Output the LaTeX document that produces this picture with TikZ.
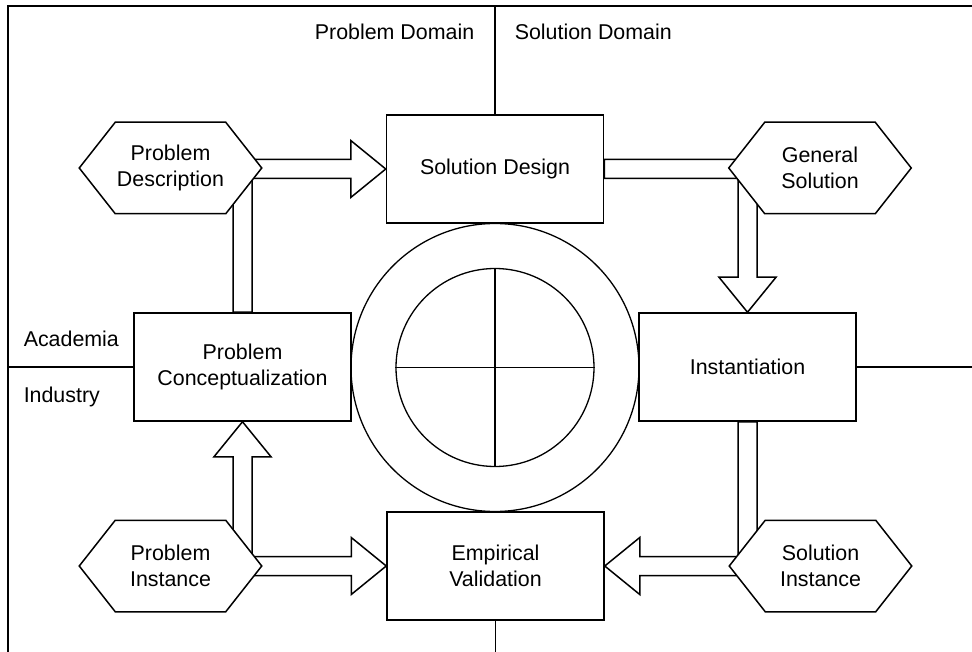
\documentclass[tikz,border=0pt]{standalone}
\usepackage{fontspec}
\setmainfont{Liberation Sans}
\usetikzlibrary{calc,positioning,backgrounds,shapes}

\begin{document}
\begin{tikzpicture}[x=1pt,y=-1pt,line width=1.5pt,
    font=\fontsize{21.4}{25.7}\selectfont,
    box/.style={draw,fill=white,minimum width=217pt,minimum height=108pt,align=center,inner sep=0pt},
    hexa/.style={minimum width=181pt,minimum height=90pt,align=center,inner sep=0pt},
    blk/.style={draw,fill=white,line width=1.5pt},
    ring/.style={circle,draw,line width=1.3pt,inner sep=0pt}]
  \useasboundingbox (0,0) rectangle (972,652);
  \coordinate (top) at (0,6);
  \coordinate (left) at (8,0);
  \draw (8,670) -- (8,6) -- (990,6);
  \node [box] (sd) at (495,169) {Solution Design};
  \node [box] (pc) at (242.5,367) {Problem\\Conceptualization};
  \node [box] (inst) at (747.5,367) {Instantiation};
  \node [box] (ev) at (495.5,566) {Empirical\\Validation};
  \node [hexa] (pdesc) at (170.5,168) {Problem\\Description};
  \node [hexa] (gsol) at (820,168) {General\\Solution};
  \node [hexa] (pinst) at (170.5,566) {Problem\\Instance};
  \node [hexa] (sinst) at (820.5,566) {Solution\\Instance};
  \node [ring,minimum size=288pt] (outer) at (495,367.5) {};
  \node [ring,minimum size=198pt] (core) at (495,367.5) {};
  \draw [line width=1.3pt] (core.north) -- (core.south) (core.west) -- (core.east);
  % domains and sides
  \draw (sd.north) -- (sd.north |- top);
  \draw (ev.south) -- ++(0,40);
  \draw (pc.west) -- (pc.west -| left);
  \draw (inst.east) -- ++(130,0);
  \node [anchor=base east,inner sep=0pt] (prob) at (475,40) {Problem Domain};
  \node [anchor=base west,inner sep=0pt] (sol) at (514,40) {Solution Domain};
  \node [anchor=base west,inner sep=0pt] (acad) at (23,347) {Academia};
  \node [anchor=base west,inner sep=0pt] (ind) at (23,402) {Industry};
  \begin{scope}[on background layer]
    \draw [blk] ($(pc.north)+(-9.5,0)$) |- ($(sd.west)+(-35,-9.5)$) -- ++(0,-19) -- (sd.west)
      -- ++(-35,28.5) -- ++(0,-19) -| ($(pc.north)+(9.5,0)$) -- cycle;
    \draw [blk] ($(sd.east)+(0,-9.5)$) -| ($(inst.north)+(9.5,-35)$) -- ++(19,0) -- (inst.north)
      -- ++(-28.5,-35) -- ++(19,0) |- ($(sd.east)+(0,9.5)$) -- cycle;
    \draw [blk] ($(inst.south)+(9.5,0)$) |- ($(ev.east)+(35,9.5)$) -- ++(0,19) -- (ev.east)
      -- ++(35,-28.5) -- ++(0,19) -| ($(inst.south)+(-9.5,0)$) -- cycle;
    \draw [blk] ($(pc.south)+(-9.5,35)$) -- ++(-19,0) -- (pc.south) -- ++(28.5,35) -- ++(-19,0)
      |- ($(ev.west)+(-35,-9.5)$) -- ++(0,-19) -- (ev.west) -- ++(-35,28.5) -- ++(0,-19)
      -| ($(pc.south)+(-9.5,35)$) -- cycle;
    \foreach \n in {pdesc,gsol,pinst,sinst}
      \draw [blk] (\n.west) -- ($(\n.north west)+(36,0)$) -- ($(\n.north east)+(-36,0)$) -- (\n.east)
        -- ($(\n.south east)+(-36,0)$) -- ($(\n.south west)+(36,0)$) -- cycle;
  \end{scope}
\end{tikzpicture}
\end{document}
